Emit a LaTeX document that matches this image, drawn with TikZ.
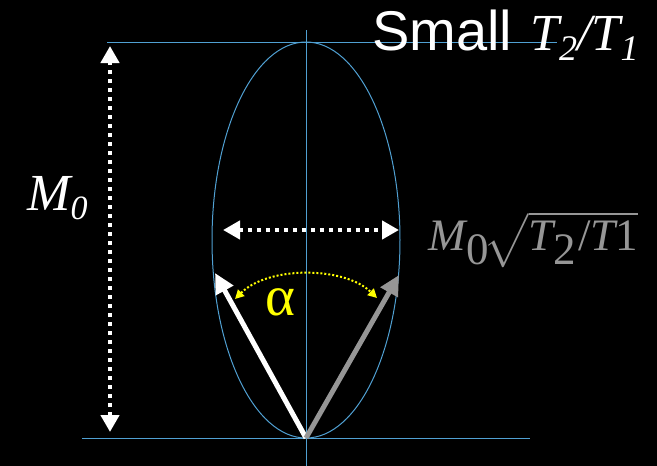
\documentclass[tikz,border=0pt]{standalone}
\usepackage{fontspec}
\setmainfont{Liberation Serif}
\setsansfont{Liberation Sans}
\usetikzlibrary{arrows.meta}
\definecolor{axisblue}{RGB}{80,160,210}
\definecolor{vecgray}{RGB}{150,150,150}
\definecolor{alphayellow}{RGB}{255,255,0}
\tikzset{
  axisline/.style={draw=axisblue, line width=1pt},
  dotarrow/.style={draw=white, line width=4.5pt, dash pattern=on 4.5pt off 4.5pt,
    {Triangle[length=17pt,width=18pt]}-{Triangle[length=17pt,width=18pt]}, shorten <=0pt},
  vecarrow/.style={line width=5pt, -{Triangle[length=20pt,width=19pt]}},
  anglearc/.style={draw=alphayellow, line width=2pt, dash pattern=on 2pt off 2pt,
    {Triangle[length=9pt,width=9pt]}-{Triangle[length=9pt,width=9pt]}},
  lbl/.style={inner sep=0pt, anchor=base west}
}
\begin{document}
\begin{tikzpicture}[x=1pt,y=-1pt]
\fill[black] (0,0) rectangle (657,466);
\useasboundingbox (0,0) rectangle (657,466);
% axes
\coordinate (tl) at (107,42);
\coordinate (tr) at (557,42);
\coordinate (bl) at (82,438);
\coordinate (br) at (530,438);
\coordinate (vt) at (306,30);
\coordinate (vb) at (306,466);
\draw[axisline] (tl) -- (tr);
\draw[axisline] (bl) -- (br);
\draw[axisline] (vt) -- (vb);
% ellipse
\coordinate (ec) at (306,240);
\draw[axisline] (ec) ellipse [x radius=94pt, y radius=198pt];
% dotted arrows
\coordinate (mtop) at (110,46);
\coordinate (mbot) at (110,432);
\draw[dotarrow] (mbot) -- (mtop);
\coordinate (hl) at (223,230);
\coordinate (hr) at (399,230);
\draw[dotarrow] (hl) -- (hr);
% vectors
\coordinate (O) at (306,438);
\coordinate (wt) at (215,273);
\coordinate (gt) at (399,275);
\draw[vecarrow, white] (O) -- (wt);
\draw[vecarrow, vecgray] (O) -- (gt);
% angle arc
\coordinate (al) at (235,299);
\coordinate (ar) at (377,298);
\draw[anglearc] (al) .. controls (268,266) and (344,266) .. (ar);
\node[lbl, text=alphayellow, font=\fontsize{57}{57}\selectfont] (alpha) at (265,315) {α};
% labels
\node[lbl, text=white, font=\fontsize{52}{52}\selectfont\itshape] (m0) at (27,210) {M\raisebox{-0.18em}{\fontsize{34}{34}\selectfont 0}};
\node[lbl, text=vecgray, scale=4.5] (m0sq) at (428,250) {$\textit{M}_{\textrm{0}}\!\sqrt{\textit{T}_{\textrm{2}}\textrm{/}\textit{T}\textrm{1}}$};
\node[lbl, text=white] (title) at (372,50) {{\sffamily\fontsize{56}{56}\selectfont Small}\hspace{18pt}{\fontsize{52}{52}\selectfont\itshape T\raisebox{-0.2em}{\fontsize{36}{36}\selectfont 2}/T\raisebox{-0.2em}{\fontsize{36}{36}\selectfont 1}}};
\end{tikzpicture}
\end{document}
